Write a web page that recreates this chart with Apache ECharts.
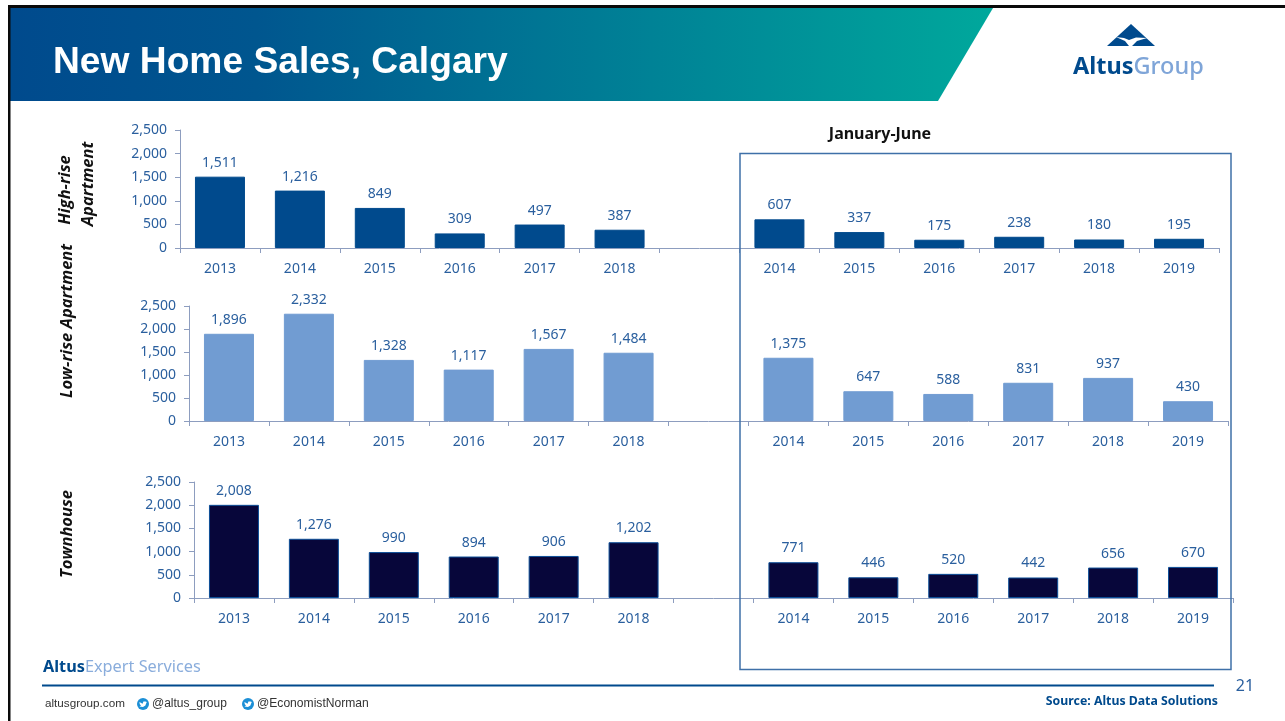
<!DOCTYPE html>
<html><head><meta charset="utf-8">
<style>html,body{margin:0;padding:0;background:#fff}#c{width:1285px;height:721px}</style>
<script src="https://cdn.jsdelivr.net/npm/echarts@6/dist/echarts.min.js"></script>
</head><body><div id="c"></div>
<script>
const categories = ['2013','2014','2015','2016','2017','2018','','2014','2015','2016','2017','2018','2019'];
const highRise = [1511,1216,849,309,497,387,null,607,337,175,238,180,195];
const lowRise = [1896,2332,1328,1117,1567,1484,null,1375,647,588,831,937,430];
const townhouse = [2008,1276,990,894,906,1202,null,771,446,520,442,656,670];
const title = 'New Home Sales, Calgary';
const periodLabel = 'January-June';
const source = 'Source: Altus Data Solutions';

const FONT = '"Noto Sans"';
const BLUE = '#2a5f9e';
const AXIS = '#8d9dbf';
const panels = [
  {data: highRise, color:'#004a8d', border:'#004a8d', left:180, top:130, h:118},
  {data: lowRise, color:'#719cd2', border:'#719cd2', left:189, top:306, h:115},
  {data: townhouse, color:'#07063a', border:'#0d4f98', left:194, top:482, h:116}
];
const fmt = v => Number(v).toLocaleString('en-US');
const chart = echarts.init(document.getElementById('c'), null, {renderer:'canvas'});

const rotText = (t,x,y,size) => ({type:'text',x,y,rotation:Math.PI/2,z:20,
  style:{text:t,align:'center',verticalAlign:'middle',fill:'#111',
  font:`italic bold ${size}px "Open Sans"`}});
const plainText = (t,x,y,font,fill,align) => ({type:'text',x,y,z:20,
  style:{text:t,font,fill,align:align||'left',verticalAlign:'middle'}});
const bird = (x,y) => ({type:'group',x,y,z:20,children:[
  {type:'circle',z:20,shape:{cx:0,cy:0,r:6},style:{fill:'#1c8fd6'}},
  {type:'polygon',z:21,shape:{points:[[-3.6,-2],[-0.4,-0.2],[0.4,-2.4],[2.4,-2.6],[3.8,-2],[3.2,-0.8],[2.4,1.4],[0,3],[-3.6,2.6],[-2,1.6],[-3.2,0.2]]},style:{fill:'#fff'}}
]});

const graphics = [
  {type:'polygon',z:5,shape:{points:[[10,8],[993,8],[938,101],[10,101]]},
   style:{fill:{type:'linear',x:0,y:0,x2:1,y2:0,colorStops:[{offset:0,color:'#004a8d'},{offset:0.25,color:'#00568f'},{offset:1,color:'#00a89c'}]}}},
  {type:'rect',z:6,shape:{x:8,y:5,width:1277,height:3},style:{fill:'#0a0a0a'}},
  {type:'rect',z:6,shape:{x:8,y:5,width:2.5,height:716},style:{fill:'#0a0a0a'}},
  plainText(title,53,62.5,'bold 37.2px "Liberation Sans"','#fff'),
  // logo
  {type:'polygon',z:20,shape:{points:[[1131,24],[1155,46],[1107,46]]},style:{fill:'#004a8d'}},
  {type:'polygon',z:21,shape:{points:[[1116,37],[1124,38],[1129,40],[1136,37.5],[1147,38],[1137,41],[1132,46],[1129,46],[1125,41]]},style:{fill:'#fff'}},
  {type:'text',x:1073,y:67,z:20,style:{text:'{a|Altus}{b|Group}',verticalAlign:'middle',
    rich:{a:{font:'bold 23.5px "Noto Sans"',fill:'#004a8d'},b:{font:'500 23.5px "Noto Sans"',fill:'#7fa5d8'}}}},
  // period box
  plainText(periodLabel,880,134,'bold 16px '+FONT,'#111','center'),
  {type:'rect',z:15,shape:{x:740,y:153.5,width:491,height:516},style:{fill:'transparent',stroke:'#3f70a8',lineWidth:1.5}},
  // row titles
  rotText('High-rise',65,190,16.5), rotText('Apartment',88,184,16.5),
  rotText('Low-rise Apartment',67,321,16.5),
  rotText('Townhouse',67,534,16.5),
  // footer
  {type:'text',x:43,y:667,z:20,style:{text:'{a|Altus}{b|Expert Services}',verticalAlign:'middle',
    rich:{a:{font:'bold 16.3px "Noto Sans"',fill:'#004a8d'},b:{font:'16.3px "Noto Sans"',fill:'#8aaddc'}}}},
  {type:'rect',z:20,shape:{x:42,y:684.5,width:1172,height:2},style:{fill:'#004a8d'}},
  plainText('21',1245,686,'16px '+FONT,BLUE,'center'),
  plainText(source,1218,701,'bold 12.3px '+FONT,'#004a8d','right'),
  plainText('altusgroup.com',45,704,'11.7px "Liberation Sans"','#333'),
  bird(143,704), plainText('@altus_group',152,704,'12px "Liberation Sans"','#333'),
  bird(248,704), plainText('@EconomistNorman',257,704,'12.1px "Liberation Sans"','#333')
];

chart.setOption({
  animation:false,
  backgroundColor:'#fff',
  textStyle:{fontFamily:FONT},
  graphic:graphics,
  grid:panels.map(p=>({left:p.left,top:p.top,width:1039,height:p.h,containLabel:false})),
  xAxis:panels.map((p,i)=>({type:'category',gridIndex:i,data:categories,
    axisLine:{show:true,lineStyle:{color:AXIS,width:1}},
    axisTick:{show:true,length:5,alignWithLabel:false,interval:0,lineStyle:{color:AXIS}},
    axisLabel:{interval:0,margin:14,color:BLUE,fontSize:14,fontFamily:FONT},
    splitLine:{show:false}})),
  yAxis:panels.map((p,i)=>({type:'value',gridIndex:i,min:0,max:2500,interval:500,
    axisLine:{show:true,lineStyle:{color:AXIS,width:1}},
    axisTick:{show:true,length:5,lineStyle:{color:AXIS}},
    axisLabel:{margin:13,color:BLUE,fontSize:14,fontFamily:FONT,formatter:fmt,padding:[2,0,0,0]},
    splitLine:{show:false}})),
  series:panels.map((p,i)=>({type:'bar',xAxisIndex:i,yAxisIndex:i,data:p.data,barWidth:50,
    itemStyle:{color:p.color,borderColor:p.border,borderWidth:1},
    label:{show:true,position:'top',distance:7,color:BLUE,fontSize:14,fontFamily:FONT,
      formatter:o=>fmt(o.value)}}))
});
</script></body></html>
